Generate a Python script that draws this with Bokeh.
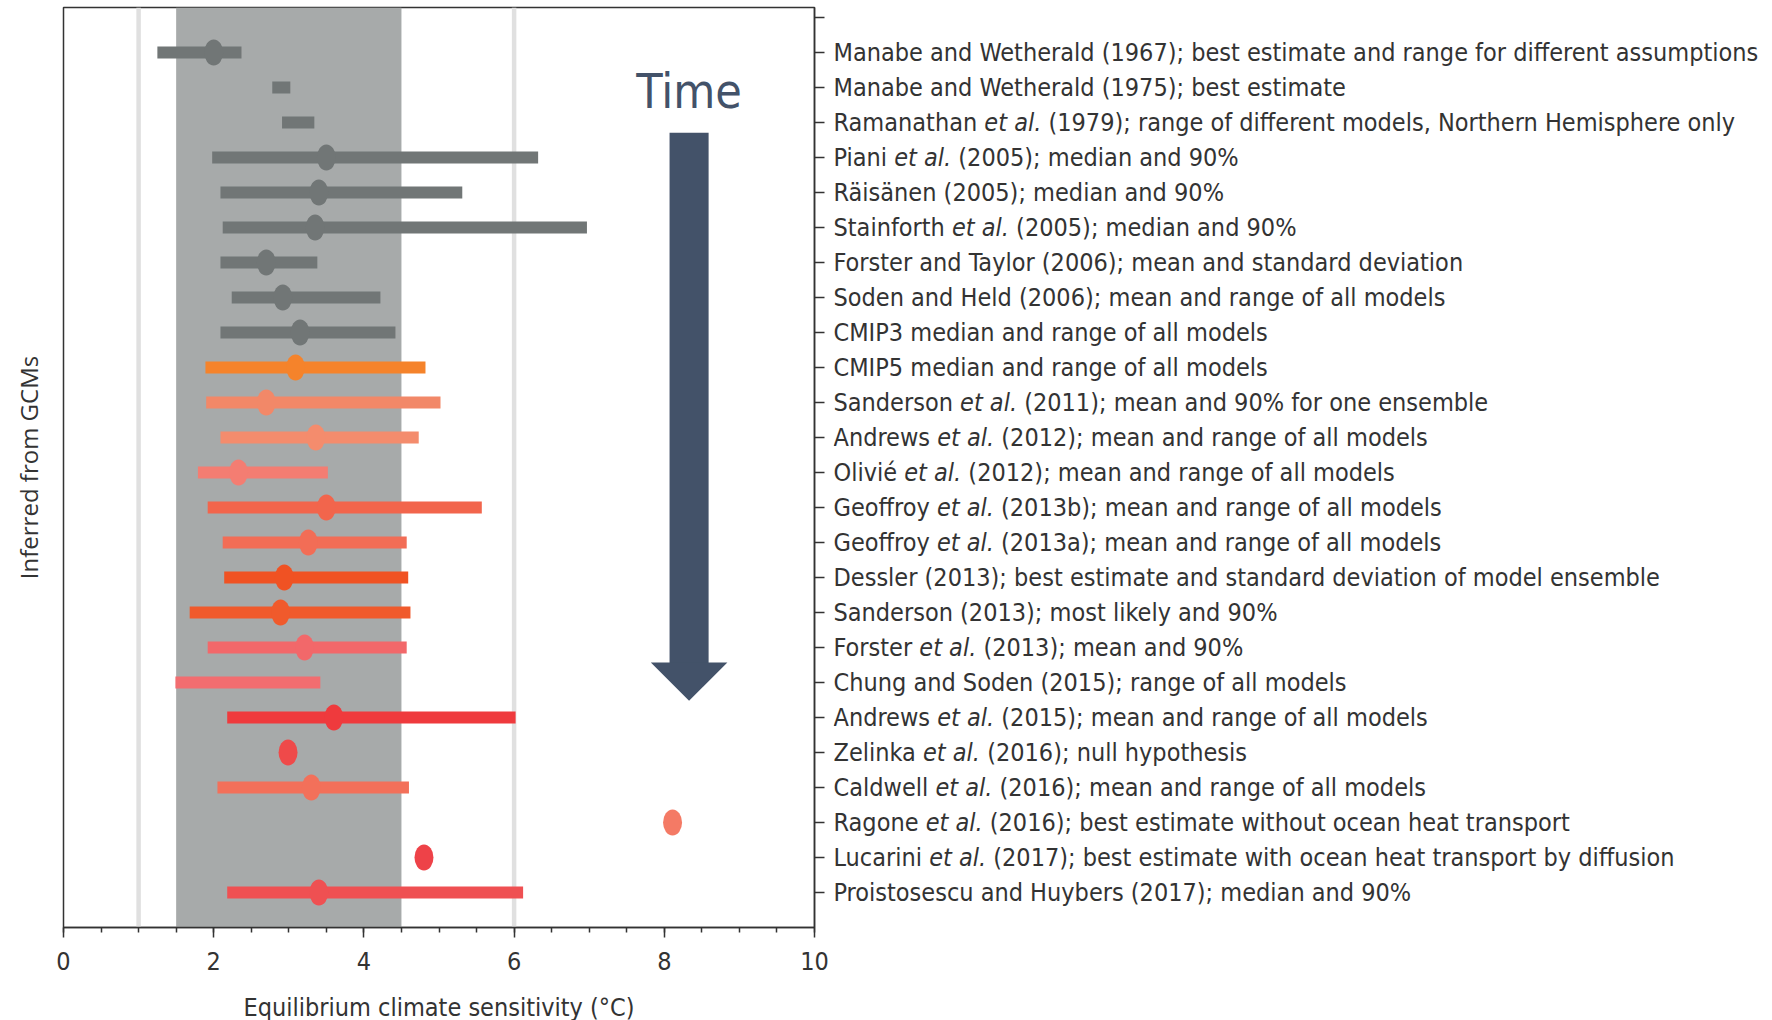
from bokeh.plotting import figure
from bokeh.layouts import row
from bokeh.models import (Range1d, LinearAxis, FixedTicker, SingleIntervalTicker,
                          BoxAnnotation, Span, ColumnDataSource, Label, CustomJS)
from bokeh.document import Document
from bokeh.embed import file_html
from bokeh.resources import INLINE

NAN = float("nan")

studies = [
    "Manabe and Wetherald (1967); best estimate and range for different assumptions",
    "Manabe and Wetherald (1975); best estimate",
    "Ramanathan et al. (1979); range of different models, Northern Hemisphere only",
    "Piani et al. (2005); median and 90%",
    "Räisänen (2005); median and 90%",
    "Stainforth et al. (2005); median and 90%",
    "Forster and Taylor (2006); mean and standard deviation",
    "Soden and Held (2006); mean and range of all models",
    "CMIP3 median and range of all models",
    "CMIP5 median and range of all models",
    "Sanderson et al. (2011); mean and 90% for one ensemble",
    "Andrews et al. (2012); mean and range of all models",
    "Olivié et al. (2012); mean and range of all models",
    "Geoffroy et al. (2013b); mean and range of all models",
    "Geoffroy et al. (2013a); mean and range of all models",
    "Dessler (2013); best estimate and standard deviation of model ensemble",
    "Sanderson (2013); most likely and 90%",
    "Forster et al. (2013); mean and 90%",
    "Chung and Soden (2015); range of all models",
    "Andrews et al. (2015); mean and range of all models",
    "Zelinka et al. (2016); null hypothesis",
    "Caldwell et al. (2016); mean and range of all models",
    "Ragone et al. (2016); best estimate without ocean heat transport",
    "Lucarini et al. (2017); best estimate with ocean heat transport by diffusion",
    "Proistosescu and Huybers (2017); median and 90%",
]

low = [1.25, 2.78, 2.91, 1.98, 2.09, 2.12, 2.09, 2.24, 2.09, 1.89, 1.90, 2.09, 1.79,
       1.92, 2.12, 2.14, 1.68, 1.92, 1.49, 2.18, NAN, 2.05, NAN, NAN, 2.18]
high = [2.37, 3.02, 3.34, 6.32, 5.31, 6.97, 3.38, 4.22, 4.42, 4.82, 5.02, 4.73, 3.52,
        5.57, 4.57, 4.59, 4.62, 4.57, 3.42, 6.02, NAN, 4.60, NAN, NAN, 6.12]
best = [2.0, NAN, NAN, 3.5, 3.4, 3.35, 2.7, 2.92, 3.15, 3.09, 2.70, 3.36, 2.33,
        3.5, 3.26, 2.94, 2.89, 3.21, NAN, 3.6, 2.99, 3.30, 8.11, 4.80, 3.4]

colors = ["#717676"] * 9 + [
    "#F5832B", "#F28868", "#F48C6D", "#F47D72", "#F2654C", "#F26D56", "#F05223",
    "#F05A2C", "#F2686A", "#F26D70", "#EF3A3D", "#EF4A4A", "#F3705A", "#F47A65",
    "#EE4248", "#EF5052",
]

rows = list(range(1, len(studies) + 1))

ipcc_range = (1.5, 4.5)
ref_lines = [1.0, 6.0]

# arrow geometry (decoration)
arrow_x = 8.33
arrow_shaft_half = 0.26
arrow_head_half = 0.51
arrow_top = 3.29
arrow_head_base = 18.43
arrow_tip = 19.52

TXT = "#333333"
NARROW = "DejaVu Sans Condensed, Roboto Condensed, Roboto"
LABEL_SIZE = "25px"

src = ColumnDataSource(dict(y=rows, low=low, high=high, best=best, color=colors))
yr = Range1d(26, -0.285)

p = figure(frame_width=751, frame_height=920,
           x_range=Range1d(0, 10), y_range=yr,
           output_backend="svg", toolbar_location=None,
           min_border_left=63, min_border_right=19,
           min_border_top=7, min_border_bottom=84)

p.background_fill_color = "white"
p.border_fill_color = "white"
p.grid.visible = False
p.outline_line_color = TXT
p.outline_line_width = 1.5

p.add_layout(BoxAnnotation(left=ipcc_range[0], right=ipcc_range[1],
                           fill_color="#A7AAAA", fill_alpha=1.0,
                           line_color=None, level="underlay"))
for loc in ref_lines:
    p.add_layout(Span(location=loc, dimension="height", line_color="#E0E0E0",
                      line_width=4.5, level="underlay"))

p.segment(x0="low", y0="y", x1="high", y1="y", source=src,
          line_color="color", line_width=12, line_cap="butt")
p.ellipse(x="best", y="y", width=19, height=26, width_units="screen",
          height_units="screen", source=src, fill_color="color", line_color=None)

# Time arrow
p.quad(left=[arrow_x - arrow_shaft_half], right=[arrow_x + arrow_shaft_half],
       top=[arrow_top], bottom=[arrow_head_base + 0.01],
       fill_color="#435269", line_color=None)
p.patch(x=[arrow_x - arrow_head_half, arrow_x + arrow_head_half, arrow_x],
        y=[arrow_head_base, arrow_head_base, arrow_tip],
        fill_color="#435269", line_color=None)
p.add_layout(Label(x=arrow_x, y=2.1, text="Time", text_align="center",
                   text_baseline="alphabetic", text_font=NARROW,
                   text_font_size="48px", text_color="#435269"))

# bottom axis
xa = p.xaxis[0]
xa.ticker = SingleIntervalTicker(interval=2, num_minor_ticks=4)
xa.axis_line_color = TXT
xa.axis_line_width = 1.5
xa.major_tick_line_color = TXT
xa.minor_tick_line_color = TXT
xa.major_tick_line_width = 1.5
xa.minor_tick_line_width = 1.5
xa.major_tick_out = 10
xa.major_tick_in = 0
xa.minor_tick_out = 5
xa.minor_tick_in = 0
xa.major_label_text_font = NARROW
xa.major_label_text_font_size = "25px"
xa.major_label_text_color = TXT
xa.major_label_standoff = 14
xa.axis_label = "Equilibrium climate sensitivity (°C)"
xa.axis_label_text_font = NARROW
xa.axis_label_text_font_size = "25px"
xa.axis_label_text_font_style = "normal"
xa.axis_label_text_color = TXT
xa.axis_label_standoff = 20

# left axis (label only)
ya = p.yaxis[0]
ya.ticker = FixedTicker(ticks=[])
ya.axis_line_color = None
ya.major_tick_line_color = None
ya.minor_tick_line_color = None
ya.axis_label = "Inferred from GCMs"
ya.axis_label_text_font = "Open Sans"
ya.axis_label_text_font_size = "24px"
ya.axis_label_text_font_style = "normal"
ya.axis_label_text_color = TXT
ya.axis_label_standoff = 19

# right axis: ticks only; the study names are drawn in the panel next to it
ra = LinearAxis(ticker=FixedTicker(ticks=[0] + rows),
                major_label_overrides={t: "" for t in [0] + rows})
ra.axis_line_color = TXT
ra.axis_line_width = 1.5
ra.major_tick_line_color = TXT
ra.major_tick_line_width = 1.5
ra.major_tick_out = 10
ra.major_tick_in = 0
ra.major_label_standoff = 0
ra.minor_tick_line_color = None
ra.major_label_text_font_size = "1px"
p.add_layout(ra, "right")

# label panel: study names, with "et al." in italics
piece_text, piece_style, piece_y, piece_grp, piece_xo = [], [], [], [], []
for r, s in zip(rows, studies):
    if "et al." in s:
        head, tail = s.split("et al.", 1)
        pieces = [(head, "normal"), ("et al. ", "italic"), (tail.lstrip(), "normal")]
    else:
        pieces = [(s, "normal")]
    off = 0.0
    for text, style in pieces:
        piece_text.append(text)
        piece_style.append(style)
        piece_y.append(r)
        piece_grp.append(r)
        piece_xo.append(off)
        off += len(text) * 10.6  # rough guess, refined in the browser

lab_src = ColumnDataSource(dict(x=[0.0] * len(piece_text), y=piece_y,
                                text=piece_text, style=piece_style,
                                grp=piece_grp, xo=piece_xo))

PANEL_W = 931
p2 = figure(frame_width=PANEL_W, frame_height=920,
            x_range=Range1d(0, PANEL_W), y_range=yr,
            output_backend="svg", toolbar_location=None,
            x_axis_location=None, y_axis_location=None,
            min_border_left=0, min_border_right=0,
            min_border_top=7, min_border_bottom=84)
p2.grid.visible = False
p2.outline_line_color = None
p2.background_fill_color = "white"
p2.border_fill_color = "white"
p2.text(x="x", y="y", text="text", x_offset="xo", source=lab_src,
        text_font_style="style", text_align="left", text_baseline="middle",
        text_font={"value": NARROW}, text_font_size={"value": LABEL_SIZE},
        text_color=TXT)

fit = CustomJS(args=dict(src=lab_src, font=NARROW, size=LABEL_SIZE), code="""
const d = src.data;
const col = (k) => (d instanceof Map ? d.get(k) : d[k]);
const texts = col('text'), styles = col('style'), grp = col('grp'), xo = col('xo');
const ctx = document.createElement('canvas').getContext('2d');
const out = [];
let cur = null, off = 0;
for (let i = 0; i < texts.length; i++) {
  if (grp[i] !== cur) { cur = grp[i]; off = 0; }
  out.push(off);
  ctx.font = (styles[i] === 'italic' ? 'italic ' : '') + size + ' ' + font;
  off += ctx.measureText(texts[i]).width;
}
if (out.every(Number.isFinite)) {
  for (let i = 0; i < out.length; i++) xo[i] = out[i];
  src.change.emit();
}
""")

layout = row(p, p2)
doc = Document()
doc.add_root(layout)
doc.js_on_event("document_ready", fit)

open("out.html", "w").write(file_html(layout, INLINE))
